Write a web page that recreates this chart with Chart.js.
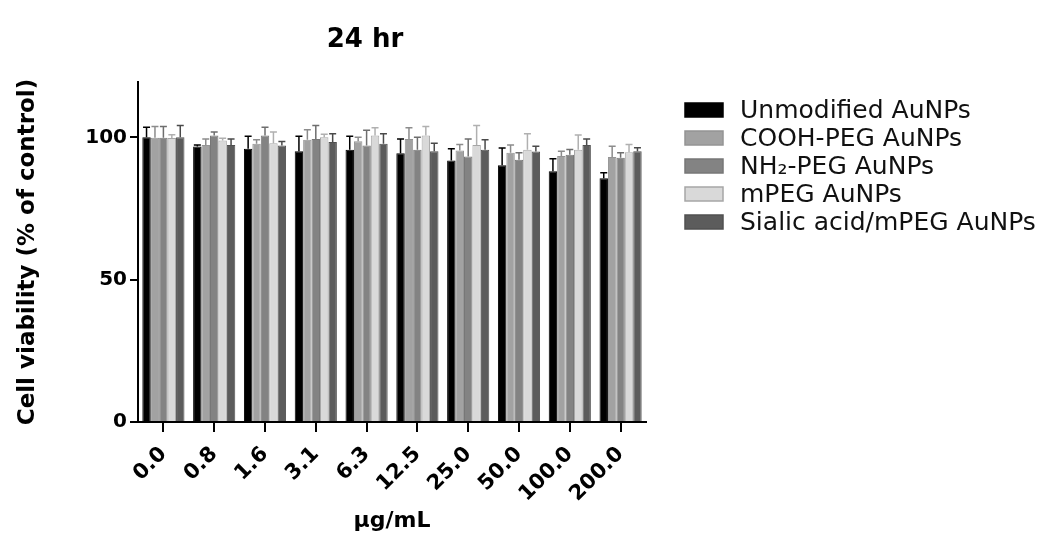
<!DOCTYPE html>
<html>
<head>
<meta charset="utf-8">
<script src="https://cdn.jsdelivr.net/npm/chart.js@4.4.1/dist/chart.umd.min.js"></script>
<style>
  html, body { margin: 0; padding: 0; background: #fff; }
  canvas { display: block; }
</style>
</head>
<body>
<canvas id="viability" width="1054" height="542"></canvas>
<script>
// concentrations on the x axis
const doses = ['0.0', '0.8', '1.6', '3.1', '6.3', '12.5', '25.0', '50.0', '100.0', '200.0']
const yTicks = [0, 50, 100]

const seriesNames = ['Unmodified AuNPs', 'COOH-PEG AuNPs', 'NH\u2082-PEG AuNPs', 'mPEG AuNPs', 'Sialic acid/mPEG AuNPs']

// mean viability (% of control) and upper error
const unmodified    = [100.1, 96.8, 96.0, 95.2, 95.7, 94.5, 91.9, 90.2, 88.1, 85.7]
const unmodifiedErr = [3.5, 0.6, 4.4, 5.2, 4.7, 5.0, 4.1, 6.1, 4.4, 1.9]
const coohPeg       = [99.9, 97.4, 97.8, 99.2, 98.7, 99.5, 95.4, 94.6, 93.5, 93.1]
const coohPegErr    = [4.0, 2.1, 1.4, 3.5, 1.4, 3.9, 2.1, 2.8, 1.7, 3.8]
const nh2Peg        = [99.9, 100.7, 100.7, 99.5, 97.2, 95.7, 93.3, 92.2, 93.9, 92.9]
const nh2PegErr     = [4.0, 1.2, 2.9, 4.7, 5.3, 4.4, 6.2, 2.4, 1.9, 1.7]
const mPeg          = [99.8, 98.9, 98.0, 100.1, 100.7, 100.7, 97.4, 95.7, 95.7, 94.8]
const mPegErr       = [1.2, 0.8, 3.9, 1.0, 2.7, 3.2, 6.8, 5.6, 5.2, 2.7]
const sialic        = [100.1, 97.4, 97.2, 98.4, 97.8, 95.2, 95.7, 95.1, 97.4, 95.2]
const sialicErr     = [4.1, 2.1, 1.4, 2.9, 3.5, 2.8, 3.5, 1.8, 2.1, 1.2]

const fills   = ['#000000', '#a2a2a2', '#838383', '#d9d9d9', '#5c5c5c']
const borders = ['#000000', '#949494', '#777777', '#a6a6a6', '#505050']
const errCols = ['#000000', '#8c8c8c', '#6e6e6e', '#b0b0b0', '#4a4a4a']

const values = [unmodified, coohPeg, nh2Peg, mPeg, sialic]
const errors = [unmodifiedErr, coohPegErr, nh2PegErr, mPegErr, sialicErr]

Chart.defaults.font.family = '"DejaVu Sans", "Liberation Sans", sans-serif'
Chart.defaults.color = '#000'

const datasets = Array.from(seriesNames, (name, i) => ({
  label: name,
  data: values[i],
  errors: errors[i],
  errColor: errCols[i],
  backgroundColor: fills[i],
  borderColor: borders[i],
  borderWidth: 1,
  categoryPercentage: 0.83,
  barPercentage: 1.0
}))

// upward error bars, positioned with the y scale
const errorBars = {
  id: 'errorBars',
  afterDatasetsDraw(chart) {
    const ctx = chart.ctx
    const y = chart.scales.y
    ctx.save()
    chart.data.datasets.forEach((ds, di) => {
      const meta = chart.getDatasetMeta(di)
      meta.data.forEach((bar, i) => {
        const top = y.getPixelForValue(ds.data[i] + ds.errors[i])
        ctx.strokeStyle = ds.errColor
        ctx.lineWidth = 1.5
        ctx.beginPath()
        ctx.moveTo(bar.x, bar.y)
        ctx.lineTo(bar.x, top)
        ctx.moveTo(bar.x - 3.5, top)
        ctx.lineTo(bar.x + 3.5, top)
        ctx.stroke()
      })
    })
    ctx.restore()
  }
}

// title and legend placed like the original figure
const decorations = {
  id: 'decorations',
  afterDraw(chart) {
    const ctx = chart.ctx
    ctx.save()
    ctx.fillStyle = '#000'
    ctx.font = 'bold 26px "DejaVu Sans"'
    ctx.textAlign = 'center'
    ctx.textBaseline = 'middle'
    ctx.fillText('24 hr', 365, 40)

    ctx.font = '25px "DejaVu Sans"'
    ctx.textAlign = 'left'
    chart.data.datasets.forEach((ds, i) => {
      const cy = 110 + i * 28
      ctx.fillStyle = ds.backgroundColor
      ctx.fillRect(685, cy - 7, 38, 14)
      ctx.strokeStyle = ds.borderColor
      ctx.lineWidth = 1.5
      ctx.strokeRect(685, cy - 7, 38, 14)
      ctx.fillStyle = '#111'
      ctx.fillText(ds.label, 740, cy + 1)
    })
    ctx.restore()
  }
}

new Chart(document.getElementById('viability'), {
  type: 'bar',
  data: { labels: doses, datasets: datasets },
  options: {
    responsive: false,
    animation: false,
    devicePixelRatio: 1,
    layout: { padding: { top: 82, right: 408, bottom: 0, left: 0 } },
    plugins: {
      legend: { display: false },
      title: { display: false },
      tooltip: { enabled: false }
    },
    scales: {
      x: {
        grid: { display: true, drawOnChartArea: false, offset: false, tickLength: 10, color: '#000', lineWidth: 2 },
        border: { color: '#000', width: 2 },
        ticks: { font: { size: 21, weight: 'bold' }, color: '#000', minRotation: 45, maxRotation: 45, autoSkip: false, padding: 10 },
        title: { display: true, text: '\u00b5g/mL', font: { size: 22, weight: 'bold' }, color: '#000', padding: { top: 0, bottom: 8 } },
        afterFit(scale) { scale.height = 120 }
      },
      y: {
        min: 0,
        max: 119.5,
        grid: { display: true, drawOnChartArea: false, tickLength: 8, color: '#000', lineWidth: 2 },
        border: { color: '#000', width: 2 },
        ticks: { stepSize: 50, font: { size: 20, weight: 'bold' }, color: '#000', padding: 3 },
        afterBuildTicks(scale) { scale.ticks = yTicks.map(v => ({ value: v })) },
        title: { display: true, text: 'Cell viability (% of control)', font: { size: 23, weight: 'bold' }, color: '#000', padding: { top: 14, bottom: 0 } },
        afterFit(scale) { scale.width = 138 }
      }
    }
  },
  plugins: [errorBars, decorations]
})
</script>
</body>
</html>
